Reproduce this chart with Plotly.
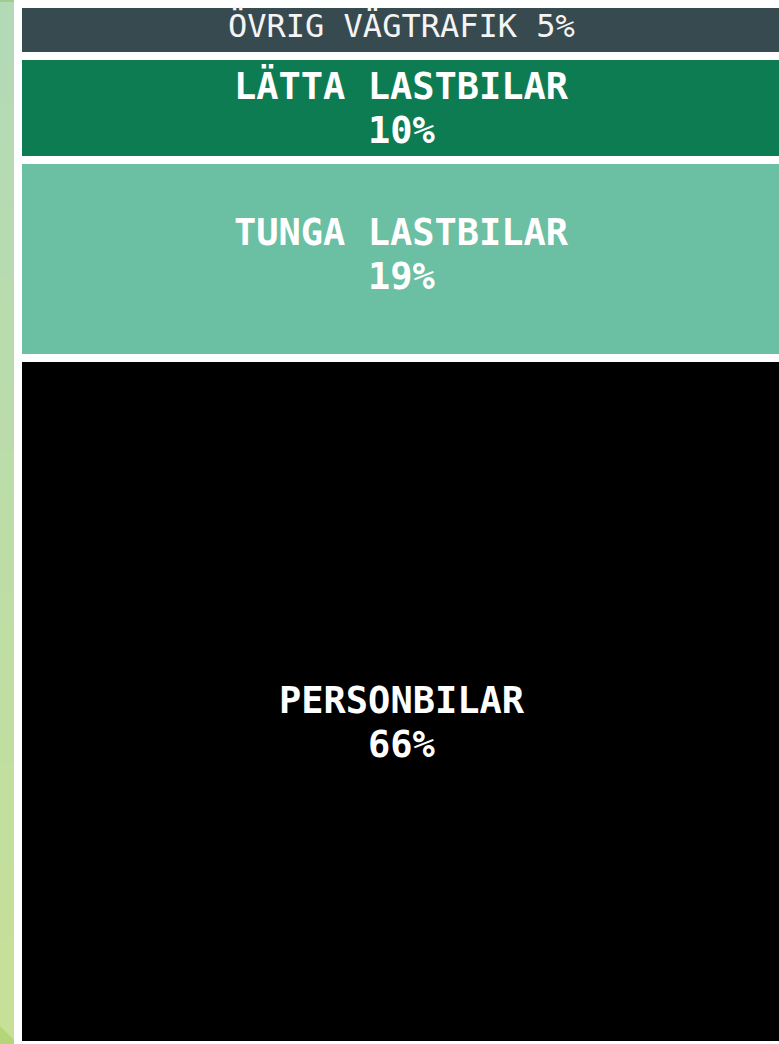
import plotly.graph_objects as go

# ---- data ----
categories = ["PERSONBILAR", "TUNGA LASTBILAR", "LÄTTA LASTBILAR", "ÖVRIG VÄGTRAFIK"]
shares = [66, 19, 10, 5]

# ---- styles ----
colors = ["#000000", "#6bbfa2", "#0e7c52", "#374a50"]
bold = [True, True, True, False]
two_line = [True, True, True, False]
label_shift = [-21.5, 5, 0, 4]   # pixel nudges of label blocks
W, H = 779, 1044
FONT = "DejaVu Sans Mono"

fig = go.Figure()
for cat, val, col in zip(categories, shares, colors):
    fig.add_trace(go.Bar(
        x=[0], y=[val], width=1, name=cat,
        marker=dict(color=col, line=dict(color="white", width=8)),
        hoverinfo="skip", showlegend=False,
    ))

# labels
base = 0
for cat, val, b, tl, sh in zip(categories, shares, bold, two_line, label_shift):
    mid = base + val / 2
    base += val
    if tl:
        for txt, dy in ((cat, 22), (f"{val}%", -22)):
            fig.add_annotation(x=0, y=mid, xref="x", yref="y",
                               text=f"<b>{txt}</b>", showarrow=False,
                               yanchor="middle", xanchor="center",
                               yshift=sh + dy,
                               font=dict(family=FONT, size=37, color="white"))
    else:
        fig.add_annotation(x=0, y=mid, xref="x", yref="y",
                           text=f"{cat} {val}%", showarrow=False,
                           yanchor="middle", xanchor="center", yshift=sh,
                           font=dict(family=FONT, size=32, color="#f4f4f4"))

# background decoration (left gradient strip, top strip)
shapes = []
top_c = (0xb2, 0xda, 0xb7)
bot_c = (0xc7, 0xe0, 0x98)
n = 30
for i in range(n):
    t = i / (n - 1)
    c = tuple(round(top_c[k] + (bot_c[k] - top_c[k]) * t) for k in range(3))
    shapes.append(dict(type="rect", xref="paper", yref="paper", layer="below",
                       x0=0, x1=14 / W, y0=1 - (i + 1) / n, y1=1 - i / n + 0.001,
                       line=dict(width=0), fillcolor="rgb(%d,%d,%d)" % c))
shapes.append(dict(type="path", xref="paper", yref="paper", layer="below",
                   path=f"M 0 {1 - 1026 / H} L {14 / W} {1 - 1040 / H} L {14 / W} 0 L 0 0 Z",
                   line=dict(width=0), fillcolor="#b5d57a"))
shapes.append(dict(type="rect", xref="paper", yref="paper", layer="below",
                   x0=0, x1=1, y0=1 - 2 / H, y1=1,
                   line=dict(width=0), fillcolor="#9ccf8d"))

kx = 767.0
x0 = -0.5 - 18 / kx
ky = 10.41
y_top = 100 + 4 / ky

fig.update_layout(
    width=W, height=H,
    margin=dict(l=0, r=0, t=0, b=0),
    barmode="stack", bargap=0,
    paper_bgcolor="white", plot_bgcolor="white",
    shapes=shapes,
    xaxis=dict(range=[x0, x0 + W / kx], visible=False, fixedrange=True),
    yaxis=dict(range=[y_top - H / ky, y_top], visible=False, fixedrange=True),
    showlegend=False,
)

fig.write_html("out.html")
